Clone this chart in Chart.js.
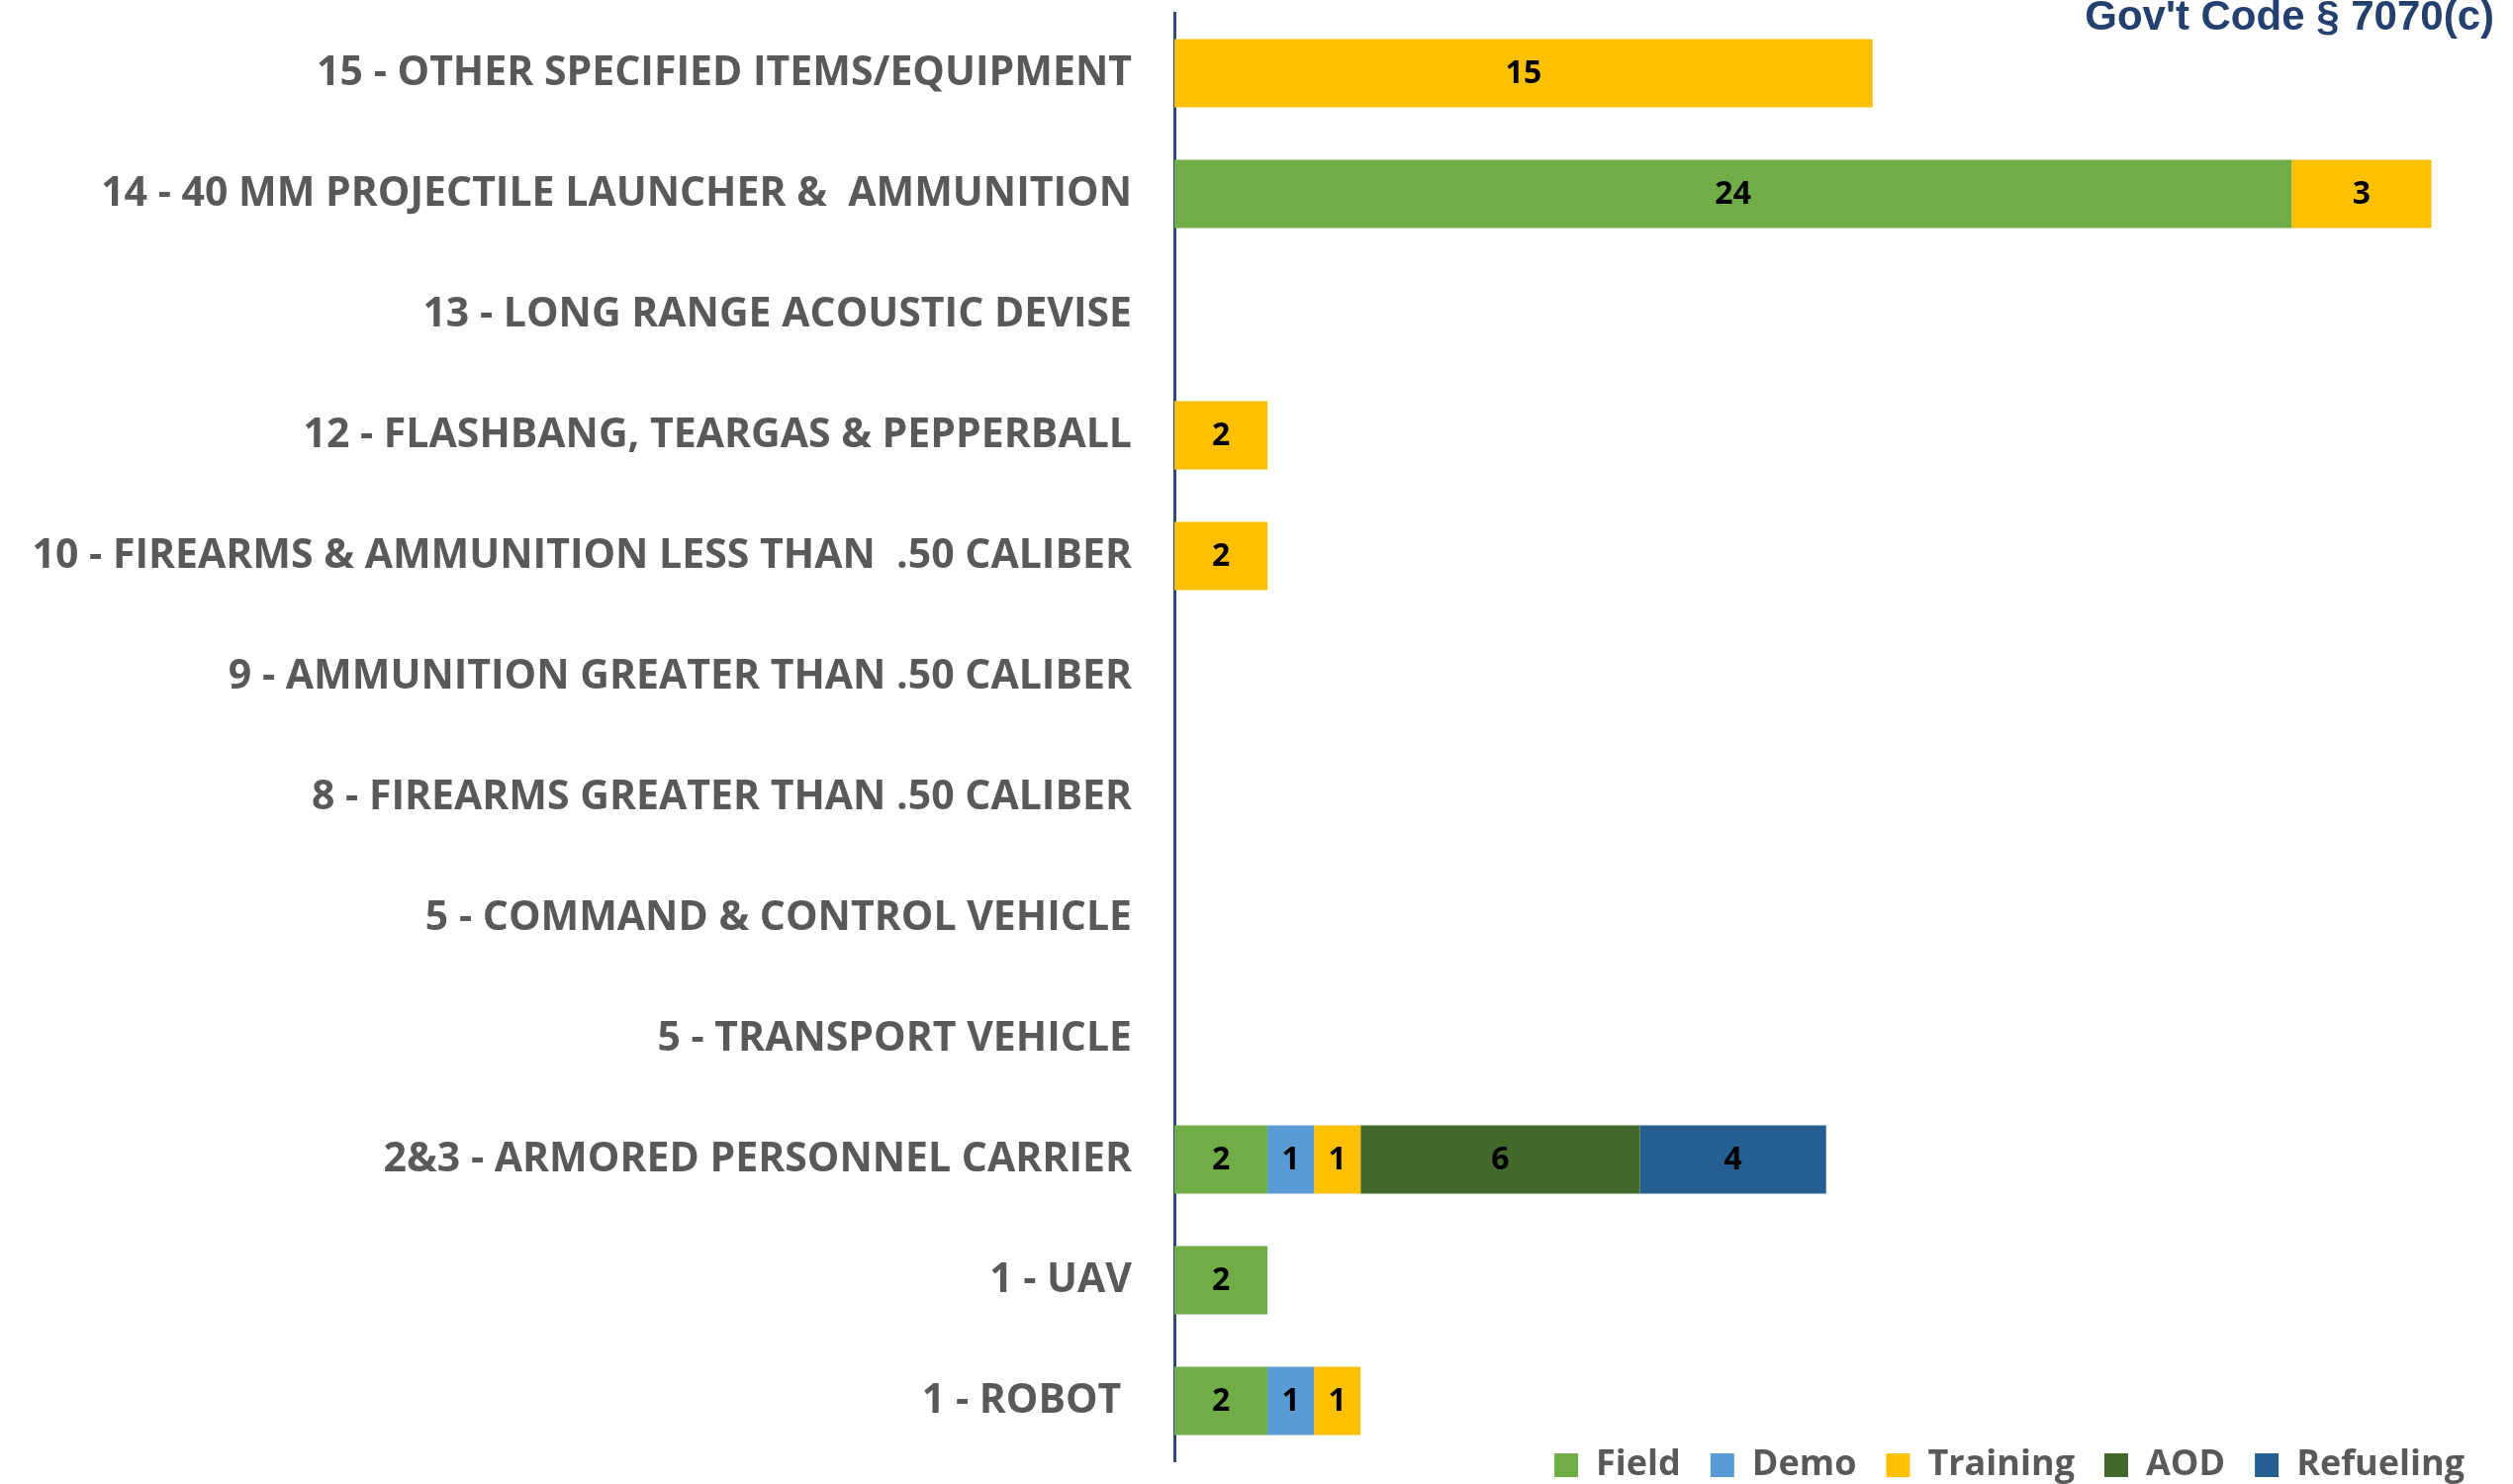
<!DOCTYPE html>
<html>
<head>
<meta charset="utf-8">
<script src="https://cdn.jsdelivr.net/npm/chart.js@4.4.1/dist/chart.umd.min.js"></script>
<style>
  body { margin: 0; background: #fff; }
  #wrap { width: 2540px; height: 1500px; }
</style>
</head>
<body>
<div id="wrap"><canvas id="equipChart"></canvas></div>
<script>
const categorie = [
  "15 - OTHER SPECIFIED ITEMS/EQUIPMENT",
  "14 - 40 MM PROJECTILE LAUNCHER &  AMMUNITION",
  "13 - LONG RANGE ACOUSTIC DEVISE",
  "12 - FLASHBANG, TEARGAS & PEPPERBALL",
  "10 - FIREARMS & AMMUNITION LESS THAN  .50 CALIBER",
  "9 - AMMUNITION GREATER THAN .50 CALIBER",
  "8 - FIREARMS GREATER THAN .50 CALIBER",
  "5 - COMMAND & CONTROL VEHICLE",
  "5 - TRANSPORT VEHICLE",
  "2&3 - ARMORED PERSONNEL CARRIER",
  "1 - UAV",
  "1 - ROBOT "
];

const field     = [null, 24, null, null, null, null, null, null, null, 2, 2, 2];
const demo      = [null, null, null, null, null, null, null, null, null, 1, null, 1];
const training  = [15, 3, null, 2, 2, null, null, null, null, 1, null, 1];
const aod       = [null, null, null, null, null, null, null, null, null, 6, null, null];
const refueling = [null, null, null, null, null, null, null, null, null, 4, null, null];

const titolo = "Gov't Code § 7070(c)";

// etichette dentro le barre
const etichette = {
  id: 'etichette',
  afterDatasetsDraw(chart) {
    const ctx = chart.ctx;
    ctx.save();
    ctx.font = "bold 32px 'Open Sans'";
    ctx.fillStyle = '#000';
    ctx.textAlign = 'center';
    ctx.textBaseline = 'middle';
    chart.data.datasets.forEach((ds, i) => {
      const meta = chart.getDatasetMeta(i);
      meta.data.forEach((bar, j) => {
        const v = ds.data[j];
        if (v == null) return;
        const p = bar.getProps(['x', 'y', 'base'], true);
        ctx.fillText(String(v), (p.x + p.base) / 2, p.y + 1);
      });
    });
    ctx.restore();
  }
};

// sposta la legenda sopra il bordo inferiore (il clip resta fino in fondo)
const legendaSu = {
  id: 'legendaSu',
  afterLayout(chart) {
    chart.legend.top -= 44;
  }
};

const ctx = document.getElementById('equipChart').getContext('2d');

new Chart(ctx, {
  type: 'bar',
  data: {
    labels: categorie,
    datasets: [
      { label: 'Field', data: field, backgroundColor: '#70AD47' },
      { label: 'Demo', data: demo, backgroundColor: '#5B9BD5' },
      { label: 'Training', data: training, backgroundColor: '#FFC000' },
      { label: 'AOD', data: aod, backgroundColor: '#43682B' },
      { label: 'Refueling', data: refueling, backgroundColor: '#255E91' }
    ]
  },
  options: {
    indexAxis: 'y',
    responsive: true,
    maintainAspectRatio: false,
    animation: false,
    layout: { padding: { top: 0, right: 19, bottom: 0, left: 0 } },
    datasets: {
      bar: { barPercentage: 0.565, categoryPercentage: 1 }
    },
    plugins: {
      title: {
        display: true,
        text: titolo,
        align: 'end',
        color: '#23406E',
        font: { family: "'Liberation Sans', Arial, sans-serif", size: 42, weight: 'bold', lineHeight: '27px' },
        padding: { top: 5, bottom: -19 }
      },
      legend: {
        position: 'bottom',
        align: 'end',
        maxHeight: 23,
        labels: {
          boxWidth: 24,
          boxHeight: 24,
          padding: 30,
          color: '#595959',
          font: { family: "'Open Sans'", size: 36, weight: 'bold' }
        }
      },
      tooltip: { enabled: false }
    },
    scales: {
      x: {
        stacked: true,
        display: false,
        min: 0,
        max: 28.35
      },
      y: {
        stacked: true,
        grid: { display: false, drawTicks: false },
        border: { display: true, color: '#2E4A7D', width: 3 },
        ticks: {
          padding: 43,
          color: '#595959',
          font: { family: "'Open Sans'", size: 41, weight: 'bold' }
        },
        afterFit(scale) {
          scale.width = 1187;
          scale.paddingTop = 0;
          scale.paddingBottom = 0;
        }
      }
    }
  },
  plugins: [etichette, legendaSu]
});
</script>
</body>
</html>
